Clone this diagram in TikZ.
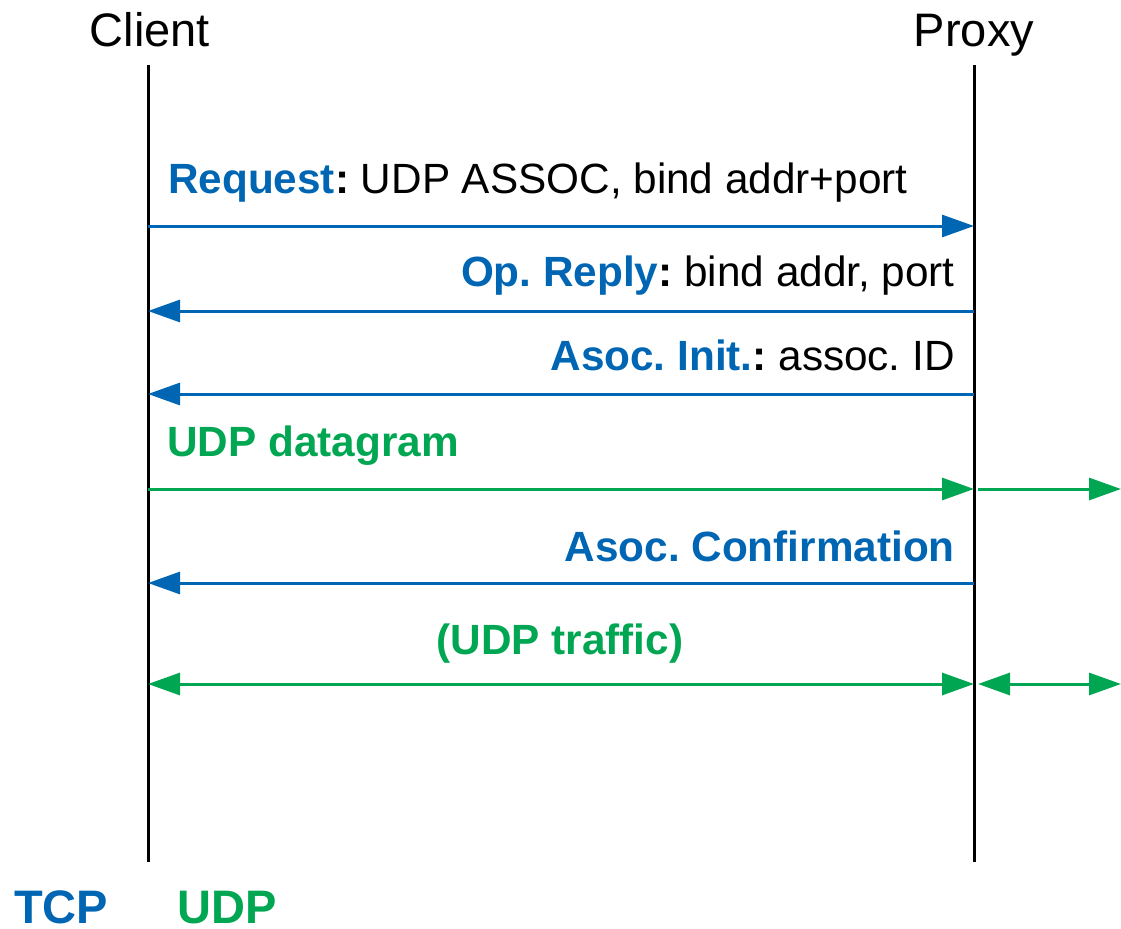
\documentclass[tikz,border=0pt]{standalone}
\usepackage{fontspec}
\setmainfont{Liberation Sans}
\frenchspacing
\usetikzlibrary{arrows.meta}
\definecolor{tcpblue}{RGB}{0,102,179}
\definecolor{udpgreen}{RGB}{0,166,81}
\tikzset{
  lifeline/.style={line width=3bp, black},
  msg/.style={line width=3bp, -{Triangle[length=32bp,width=22bp]}},
  twoway/.style={line width=3bp, {Triangle[length=32bp,width=22bp]}-{Triangle[length=32bp,width=22bp]}},
  tcp/.style={tcpblue},
  udp/.style={udpgreen},
  lbl/.style={inner sep=0pt, font=\fontsize{42.3bp}{46bp}\selectfont},
  boldlbl/.style={inner sep=0pt, font=\fontsize{42.3bp}{46bp}\selectfont\bfseries},
  head/.style={inner sep=0pt, font=\fontsize{47bp}{52bp}\selectfont},
  legend/.style={inner sep=0pt, text depth=0pt, font=\fontsize{47bp}{52bp}\selectfont\bfseries}
}
\begin{document}
\begin{tikzpicture}[x=1bp,y=-1bp]
\useasboundingbox (0,0) rectangle (1121,929);

% participants
\node[head, anchor=base] (client) at (150,46) {Client};
\node[head, anchor=base] (proxy) at (974,46) {Proxy};
\coordinate (ctop) at (148,65);
\coordinate (cbot) at (148,862);
\coordinate (ptop) at (974,65);
\coordinate (pbot) at (974,862);
\draw[lifeline] (ctop) -- (cbot);
\draw[lifeline] (ptop) -- (pbot);

% request
\coordinate (c1) at (148,226);
\coordinate (p1) at (974,226);
\draw[msg, tcp] (c1) -- (p1);
\node[lbl, anchor=base west] (t1) at (168,193)
  {\textbf{\color{tcpblue}Request}\textbf{:} UDP ASSOC, bind addr+port};

% operation reply
\coordinate (c2) at (148,311);
\coordinate (p2) at (974,311);
\draw[msg, tcp] (p2) -- (c2);
\node[lbl, anchor=base east] (t2) at (955,286)
  {\textbf{\color{tcpblue}Op. Reply}\textbf{:} bind addr, port};

% association init
\coordinate (c3) at (148,394);
\coordinate (p3) at (974,394);
\draw[msg, tcp] (p3) -- (c3);
\node[lbl, anchor=base east] (t3) at (955,370)
  {\textbf{\color{tcpblue}Asoc. Init.}\textbf{:} assoc. ID};

% udp datagram
\coordinate (c4) at (148,489);
\coordinate (p4) at (974,489);
\coordinate (p4a) at (978,489);
\coordinate (o4) at (1121,489);
\draw[msg, udp] (c4) -- (p4);
\draw[msg, udp] (p4a) -- (o4);
\node[boldlbl, anchor=base west, text=udpgreen] (t4) at (167,456) {UDP datagram};

% association confirmation
\coordinate (c5) at (148,583);
\coordinate (p5) at (974,583);
\draw[msg, tcp] (p5) -- (c5);
\node[boldlbl, anchor=base east, text=tcpblue] (t5) at (955,561) {Asoc. Confirmation};

% udp traffic
\coordinate (c6) at (148,684);
\coordinate (p6) at (974,684);
\coordinate (p6a) at (978,684);
\coordinate (o6) at (1121,684);
\draw[twoway, udp] (c6) -- (p6);
\draw[twoway, udp] (p6a) -- (o6);
\node[boldlbl, anchor=base, text=udpgreen] (t6) at (560,654) {(UDP traffic)};

% legend
\node[legend, anchor=base west, text=tcpblue] (lt) at (14,923) {TCP};
\node[legend, anchor=base west, text=udpgreen] (lu) at (177,923) {UDP};
\end{tikzpicture}
\end{document}
